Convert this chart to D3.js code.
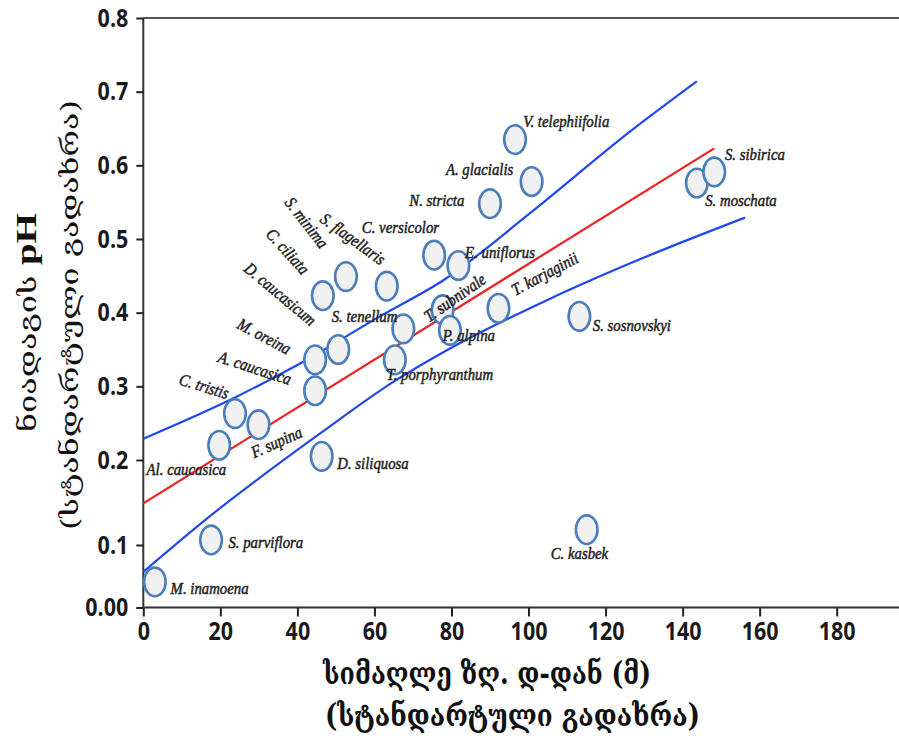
<!DOCTYPE html>
<html><head><meta charset="utf-8">
<script src="https://cdn.jsdelivr.net/npm/d3@7"></script>
<style>html,body{margin:0;padding:0;background:#fff;}svg{display:block}</style>
</head><body>
<svg id="chart" width="899" height="738"></svg>
<script>
// ---------- DATA ----------
const species = ["M. inamoena","S. parviflora","Al. caucasica","C. tristis","F. supina","D. siliquosa",
  "A. caucasica","M. oreina","D. caucasicum","C. ciliata","S. minima","S. flagellaris","S. tenellum",
  "T. porphyranthum","C. versicolor","E. uniflorus","T. subnivale","P. alpina","T. karjaginii",
  "N. stricta","A. glacialis","V. telephiifolia","S. sosnovskyi","S. moschata","S. sibirica","C. kasbek"];
const altitudeSD = [3.0,17.6,19.7,23.8,29.9,46.3,44.6,44.6,50.6,46.6,52.6,63.2,67.5,65.3,75.5,81.8,77.7,79.6,92.2,90.0,100.8,96.5,113.2,143.7,148.2,115.1];
const soilPH = [0.041,0.106,0.220,0.263,0.248,0.205,0.294,0.336,0.350,0.423,0.449,0.436,0.378,0.336,0.478,0.464,0.404,0.376,0.406,0.548,0.578,0.635,0.395,0.576,0.591,0.118];
const fitX = [0, 148.2];
const fitY = [0.149, 0.623];
const upperX = [0, 24.2, 40.7, 61.4, 77.9, 100.4, 126.4, 143.7];
const upperY = [0.229, 0.286, 0.331, 0.395, 0.444, 0.535, 0.646, 0.714];
const lowerX = [0, 16.5, 45.9, 64.9, 78.8, 105.6, 126.4, 156.2];
const lowerY = [0.057, 0.131, 0.236, 0.306, 0.349, 0.419, 0.467, 0.529];
const xTicks = [0,20,40,60,80,100,120,140,160,180];
const yTicks = [0,0.1,0.2,0.3,0.4,0.5,0.6,0.7,0.8];
const yTickLabels = ["0.00","0.1","0.2","0.3","0.4","0.5","0.6","0.7","0.8"];
const yTitle1 = "ნიადაგის ";
const yTitle1b = "pH";
const yTitle2 = "(სტანდარტული გადახრა)";
const xTitle1 = "სიმაღლე ზღ. დ-დან (მ)";
const xTitle2 = "(სტანდარტული გადახრა)";

// ---------- LAYOUT ----------
const W = 899, H = 738;
const xPix = [143.3, 836.7];
const yBreaks = [0, 0.1, 0.2, 0.8];
const yPix = [607.5, 545, 460, 18];
// label offsets (dx, dy from point centre, rotation)
const labelLayout = {
  "M. inamoena":[15.7,12.3,0], "S. parviflora":[17.3,8.3,0], "Al. caucasica":[-72.6,30,0],
  "C. tristis":[-57,-29.3,17], "F. supina":[-4.3,33.7,-24], "D. siliquosa":[15.6,12.3,0],
  "A. caucasica":[-98,-29,18], "M. oreina":[-79,-32,28], "D. caucasicum":[-95.3,-79.3,40],
  "C. ciliata":[-57.7,-61,48], "S. minima":[-62,-73.7,52], "S. flagellaris":[-67.7,-65,36],
  "S. tenellum":[-71.6,-7.3,0], "T. porphyranthum":[-8.3,20,0], "C. versicolor":[-72.3,-22,0],
  "E. uniflorus":[6.7,-7.4,0], "T. subnivale":[-13.7,13,-35], "P. alpina":[-7.3,11,0],
  "T. karjaginii":[16.7,-12.3,-28], "N. stricta":[-80.7,2.7,0], "A. glacialis":[-85.7,-6.7,0],
  "V. telephiifolia":[8.3,-12.6,0], "S. sosnovskyi":[13.4,15,0], "S. moschata":[8.3,22.7,0],
  "S. sibirica":[10.7,-11.7,0], "C. kasbek":[-36,29,0]
};

const svg = d3.select("#chart");
svg.append("rect").attr("width",W).attr("height",H).attr("fill","#fff");

const x = d3.scaleLinear().domain([0,180]).range(xPix);
const y = d3.scaleLinear().domain(yBreaks).range(yPix);

// frame: top line and baseline
svg.append("line").attr("x1",x(0)).attr("x2",W).attr("y1",y(0.8)).attr("y2",y(0.8))
  .attr("stroke","#555").attr("stroke-width",2);
svg.append("line").attr("x1",x(0)).attr("x2",W).attr("y1",y(0)).attr("y2",y(0))
  .attr("stroke","#333").attr("stroke-width",2);
svg.append("line").attr("x1",x(0)).attr("x2",x(0)).attr("y1",y(0.8)).attr("y2",y(0))
  .attr("stroke","#333").attr("stroke-width",2);

const tickFont = "'Open Sans', 'DejaVu Sans', sans-serif";
const sx = 0.86;

// x axis
const gx = svg.append("g").attr("transform",`translate(0,${y(0)})`)
  .call(d3.axisBottom(x).tickValues(xTicks).tickSize(9).tickSizeOuter(0).tickFormat(d3.format("d")));
gx.select(".domain").remove();
gx.selectAll(".tick line").attr("stroke","#222").attr("stroke-width",2);
gx.selectAll(".tick text").attr("font-family",tickFont).attr("font-weight","bold")
  .attr("font-size",25).attr("fill","#1a1a1a").attr("y",15)
  .attr("transform",`scale(${sx},1)`);

// y axis
const gy = svg.append("g").attr("transform",`translate(${x(0)},0)`)
  .call(d3.axisLeft(y).tickValues(yTicks).tickSize(7).tickSizeOuter(0)
    .tickFormat((d,i)=>yTickLabels[i]));
gy.select(".domain").remove();
gy.selectAll(".tick line").attr("stroke","#222").attr("stroke-width",2);
gy.selectAll(".tick text").attr("font-family",tickFont).attr("font-weight","bold")
  .attr("font-size",25).attr("fill","#1a1a1a").attr("x",-15/sx)
  .attr("transform",`scale(${sx},1)`);

// lines
const lineGen = d3.line().x(d=>x(d[0])).y(d=>y(d[1]));
const curveGen = d3.line().x(d=>x(d[0])).y(d=>y(d[1])).curve(d3.curveMonotoneX);
svg.append("path").attr("d",curveGen(upperX.map((v,i)=>[v,upperY[i]])))
  .attr("fill","none").attr("stroke","#1f48f0").attr("stroke-width",2.2);
svg.append("path").attr("d",curveGen(lowerX.map((v,i)=>[v,lowerY[i]])))
  .attr("fill","none").attr("stroke","#1f48f0").attr("stroke-width",2.2);
svg.append("path").attr("d",lineGen(fitX.map((v,i)=>[v,fitY[i]])))
  .attr("fill","none").attr("stroke","#f02020").attr("stroke-width",2.2);

// points
const pts = species.map((s,i)=>({name:s, ax:altitudeSD[i], ph:soilPH[i]}));
svg.append("g").selectAll("ellipse").data(pts).join("ellipse")
  .attr("cx",d=>x(d.ax)).attr("cy",d=>y(d.ph)).attr("rx",10.8).attr("ry",14.3)
  .attr("fill","#f0f0f0").attr("stroke","#4a7ebb").attr("stroke-width",2.6);

// labels
svg.append("g").selectAll("text").data(pts).join("text")
  .attr("transform",d=>{
    const L = labelLayout[d.name];
    return `translate(${x(d.ax)+L[0]},${y(d.ph)+L[1]}) rotate(${L[2]}) scale(1,1.15)`;
  })
  .attr("font-family","'Liberation Serif','Times New Roman',serif")
  .attr("font-style","italic").attr("font-size",14.8).attr("fill","#151515")
  .attr("stroke","#2a2a2a").attr("stroke-width",0.45)
  .text(d=>d.name);

// y title
const geoFont = "'DejaVu Serif','DejaVu Sans',serif";
const yt1 = svg.append("text").attr("transform","translate(36,432) rotate(-90)")
  .attr("font-family",geoFont).attr("font-size",25).attr("fill","#111")
  .attr("textLength",219).attr("lengthAdjust","spacingAndGlyphs");
yt1.append("tspan").text(yTitle1);
yt1.append("tspan").attr("font-family","'Liberation Serif',serif").attr("font-weight","bold")
  .attr("font-size",30).text(yTitle1b);
svg.append("text").attr("transform","translate(78,530) rotate(-90)")
  .attr("font-family",geoFont).attr("font-size",25).attr("fill","#111")
  .attr("textLength",430).attr("lengthAdjust","spacingAndGlyphs").text(yTitle2);

// x title
svg.append("text").attr("transform","translate(323,684) scale(1,1.3)")
  .attr("font-family",geoFont).attr("font-size",24).attr("font-weight","bold").attr("fill","#111")
  .attr("textLength",328).attr("lengthAdjust","spacingAndGlyphs").text(xTitle1);
svg.append("text").attr("transform","translate(325,726) scale(1,1.3)")
  .attr("font-family",geoFont).attr("font-size",24).attr("font-weight","bold").attr("fill","#111")
  .attr("textLength",375).attr("lengthAdjust","spacingAndGlyphs").text(xTitle2);
</script>
</body></html>
